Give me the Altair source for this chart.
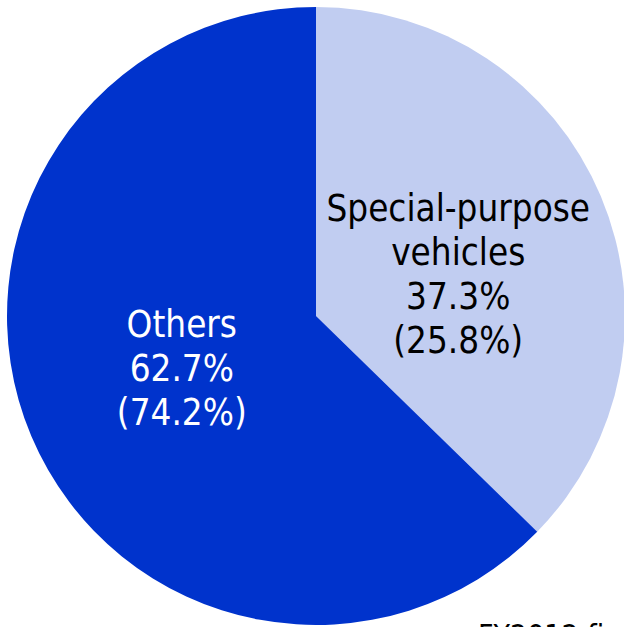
import altair as alt
import pandas as pd

categories = ["Special-purpose vehicles", "Others"]
shares = [37.3, 62.7]
prior = ["(25.8%)", "(74.2%)"]
label_names = [["Special-purpose", "vehicles"], ["Others"]]
colors = ["#C1CDF1", "#0033CC"]
text_colors = ["#000000", "#FFFFFF"]

df = pd.DataFrame({
    "category": categories,
    "share": shares,
    "order": [0, 1],
    "label": [names + [f"{s}%", p] for names, s, p in zip(label_names, shares, prior)],
    "tcolor": text_colors,
})

CX, CY, R = 316, 316, 309

base = alt.Chart(df).encode(
    theta=alt.Theta("share:Q", stack=True),
    order=alt.Order("order:Q"),
)

pie = base.mark_arc(stroke=None).encode(
    x=alt.value(CX), y=alt.value(CY),
    radius=alt.value(R),
    color=alt.Color("category:N", scale=alt.Scale(domain=categories, range=colors), legend=None),
)

labels = base.mark_text(
    font="DejaVu Sans Condensed", fontSize=36.5, lineHeight=44, align="center", baseline="middle",
    dx=4, dy=-48,
).encode(
    x=alt.value(CX), y=alt.value(CY),
    radius=alt.value(150),
    text="label",
    color=alt.Color("tcolor:N", scale=None),
)

footer = alt.Chart(pd.DataFrame({"t": ["FY2012 fi"]})).mark_text(
    font="DejaVu Sans Condensed", fontSize=30, align="left", baseline="alphabetic", color="#000000",
).encode(x=alt.value(478), y=alt.value(646), text="t:N")

chart = alt.layer(pie, labels, footer).properties(
    width=624, height=627, padding=0, autosize=alt.AutoSizeParams(type="none"),
).configure_view(stroke=None)

chart.save("out.html", embed_options={"renderer": "svg", "actions": False})
